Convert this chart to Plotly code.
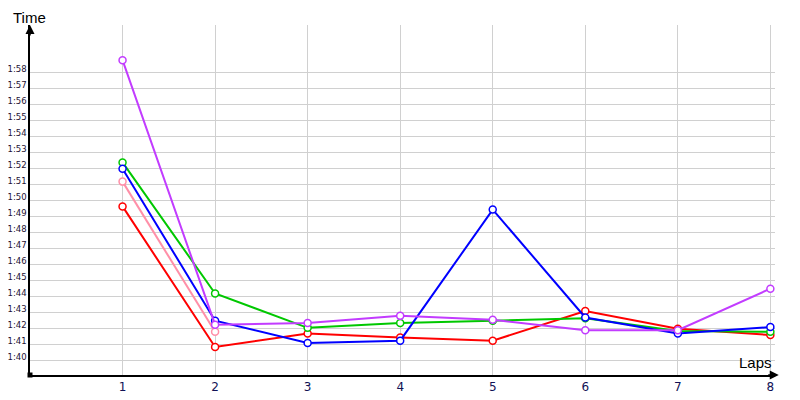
import plotly.graph_objects as go

# lap numbers and lap times (seconds) for each driver
laps = [1, 2, 3, 4, 5, 6, 7, 8]
red_times = [109.65, 100.85, 101.7, 101.45, 101.25, 103.1, 102.0, 101.6]
pink_times = [111.2, 101.8, None, None, None, None, None, None]
green_times = [112.4, 104.2, 102.05, 102.35, 102.5, 102.65, 101.85, 101.8]
blue_times = [112.0, 102.5, 101.1, 101.25, 109.45, 102.7, 101.7, 102.1]
purple_times = [118.8, 102.25, 102.35, 102.8, 102.55, 101.9, 101.9, 104.5]

tick_seconds = list(range(100, 119))
tick_labels = ["1:%02d" % (s - 60) for s in tick_seconds]

series = [
    ("pink", pink_times, "#ff8fa8"),
    ("red", red_times, "#ff0000"),
    ("green", green_times, "#00c800"),
    ("blue", blue_times, "#0000ff"),
    ("purple", purple_times, "#c23cff"),
]

fig = go.Figure()
for name, times, color in series:
    fig.add_trace(go.Scatter(
        x=laps, y=times, name=name, mode="lines+markers",
        line=dict(color=color, width=2),
        marker=dict(symbol="circle", size=7, color="white",
                    line=dict(color=color, width=1.5)),
        connectgaps=False, cliponaxis=False,
    ))

# the page body adds 8px around the plot, so margins are offset by that
fig.update_layout(
    width=800, height=400,
    margin=dict(l=22, r=33, t=17, b=33),
    plot_bgcolor="white", paper_bgcolor="white",
    showlegend=False,
    font=dict(family="DejaVu Sans", color="#111133"),
)

fig.update_xaxes(
    range=[0, 8.05], tickvals=laps, ticktext=[str(l) for l in laps],
    showgrid=True, gridcolor="#d0d0d0", gridwidth=1,
    showline=True, linecolor="black", linewidth=1.5,
    zeroline=False, ticks="", tickfont=dict(size=12, color="#111155"),
    automargin=False,
)
fig.update_yaxes(
    range=[99.1, 121.0], tickvals=tick_seconds, ticktext=tick_labels,
    showgrid=True, gridcolor="#d0d0d0", gridwidth=1,
    showline=True, linecolor="black", linewidth=1.5,
    zeroline=False, ticks="", tickfont=dict(size=8.5, color="#221133"),
    ticklabelstandoff=0, ticklabelshift=-4, automargin=False,
)

# axis arrows
fig.add_annotation(x=0, y=1.0, xref="paper", yref="paper", ax=0, ay=12,
                   text="", showarrow=True, arrowhead=2, arrowsize=1.2,
                   arrowwidth=1.5, arrowcolor="black")
fig.add_annotation(x=1.005, y=0, xref="paper", yref="paper", ax=-12, ay=0,
                   text="", showarrow=True, arrowhead=2, arrowsize=1.2,
                   arrowwidth=1.5, arrowcolor="black")

# origin dot
fig.add_shape(type="rect", xref="paper", yref="paper", xsizemode="pixel",
              ysizemode="pixel", xanchor=0, yanchor=0, x0=-2.5, x1=2.5,
              y0=-2.5, y1=2.5, fillcolor="black", line=dict(width=0))

fig.add_annotation(x=-0.025, y=1.02, xref="paper", yref="paper", xanchor="left",
                   yanchor="middle", text="Time", showarrow=False,
                   font=dict(family="Liberation Sans", size=15, color="black"))
fig.add_annotation(x=0.999, y=0.006, xref="paper", yref="paper", xanchor="right",
                   yanchor="bottom", text="Laps", showarrow=False,
                   font=dict(family="Liberation Sans", size=15, color="black"))

fig.write_html("out.html")
